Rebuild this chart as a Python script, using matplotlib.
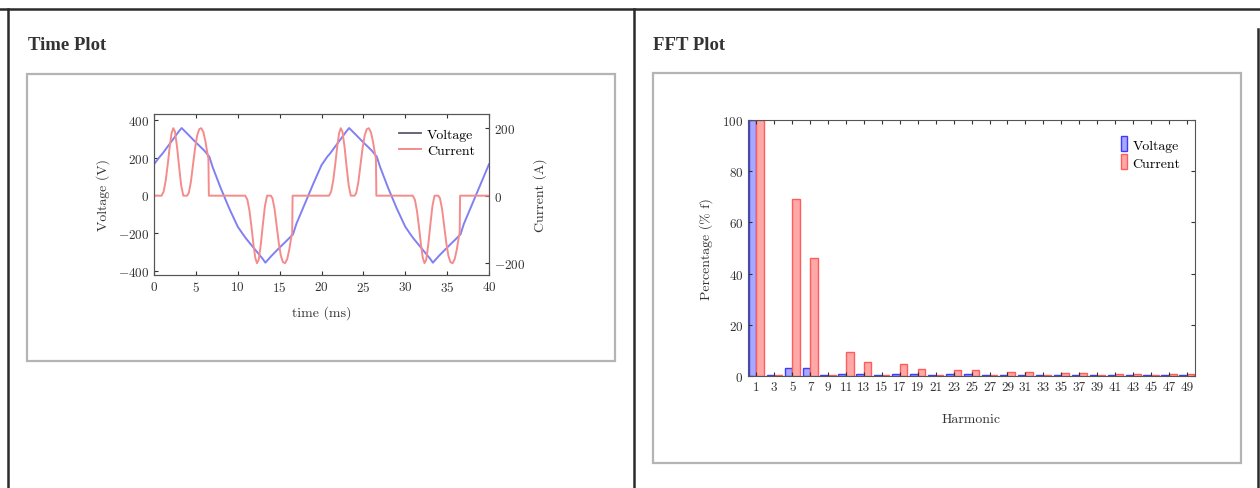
import numpy as np
import matplotlib.pyplot as plt
from matplotlib.lines import Line2D
from matplotlib.patches import Rectangle

plt.rcParams['font.family'] = 'cmr10'
plt.rcParams['mathtext.fontset'] = 'cm'
plt.rcParams['axes.formatter.use_mathtext'] = True

# time plot data
t_volt = [0, 0.7, 1, 2, 3, 3.3, 4, 5, 6, 6.6, 7, 8, 9, 10, 10.7, 11, 12, 13, 13.3,
          14, 15, 16, 16.6, 17, 18, 19, 20, 20.7, 21, 22, 23, 23.3, 24, 25, 26, 26.6,
          27, 28, 29, 30, 30.7, 31, 32, 33, 33.3, 34, 35, 36, 36.6, 37, 38, 39, 40]
volt = [165, 205, 220, 280, 340, 356, 325, 280, 237, 205, 150, 35, -70, -165, -210, -228, -282, -336, -355,
        -320, -275, -232, -205, -150, -45, 60, 160, 205, 220, 280, 340, 356, 325, 280, 237, 205,
        150, 35, -70, -165, -210, -228, -282, -336, -355, -320, -275, -232, -205, -150, -45, 60, 165]

t_curr = [0, 0.9, 1.15, 1.4, 1.65, 1.9, 2.1, 2.3, 2.5, 2.75, 3.0, 3.25, 3.5, 3.95, 4.15, 4.4, 4.65,
          4.9, 5.15, 5.4, 5.65, 5.9, 6.15, 6.4, 6.5, 6.55,
          10.9, 11.15, 11.4, 11.65, 11.9, 12.1, 12.3, 12.5, 12.75, 13.0, 13.25, 13.5, 13.95, 14.15, 14.4, 14.65,
          14.9, 15.15, 15.4, 15.65, 15.9, 16.15, 16.4, 16.5, 16.55,
          20.9, 21.15, 21.4, 21.65, 21.9, 22.1, 22.3, 22.5, 22.75, 23.0, 23.25, 23.5, 23.95, 24.15, 24.4, 24.65,
          24.9, 25.15, 25.4, 25.65, 25.9, 26.15, 26.4, 26.5, 26.55,
          30.9, 31.15, 31.4, 31.65, 31.9, 32.1, 32.3, 32.5, 32.75, 33.0, 33.25, 33.5, 33.95, 34.15, 34.4, 34.65,
          34.9, 35.15, 35.4, 35.65, 35.9, 36.15, 36.4, 36.5, 36.55, 40]
curr = [0, 0, 12, 45, 95, 150, 185, 200, 190, 145, 85, 30, 0, 0, 8, 40, 90,
        140, 178, 197, 200, 188, 160, 122, 110, 0,
        0, -12, -45, -95, -150, -185, -200, -190, -145, -85, -30, 0, 0, -8, -40, -90,
        -140, -178, -197, -200, -188, -160, -122, -110, 0,
        0, 12, 45, 95, 150, 185, 200, 190, 145, 85, 30, 0, 0, 8, 40, 90,
        140, 178, 197, 200, 188, 160, 122, 110, 0,
        0, -12, -45, -95, -150, -185, -200, -190, -145, -85, -30, 0, 0, -8, -40, -90,
        -140, -178, -197, -200, -188, -160, -122, -110, 0, 0]

# FFT data
harmonics = [1, 3, 5, 7, 9, 11, 13, 15, 17, 19, 21, 23, 25, 27, 29, 31, 33, 35, 37, 39, 41, 43, 45, 47, 49]
fft_volt = [100, 0.4, 3.0, 3.0, 0.4, 0.9, 0.8, 0.4, 0.9, 0.6, 0.4, 0.6, 0.6, 0.3, 0.5, 0.5,
            0.3, 0.4, 0.4, 0.3, 0.4, 0.4, 0.3, 0.4, 0.4]
fft_curr = [100, 0.3, 69, 46, 0.3, 9.4, 5.3, 0.3, 4.8, 2.7, 0.3, 2.5, 2.2, 0.3, 1.4, 1.4,
            0.3, 1.1, 1.1, 0.3, 0.9, 0.9, 0.3, 0.7, 0.7]

W, H = 1260, 489
fig = plt.figure(figsize=(W / 100, H / 100), dpi=100)


def fx(x):
    return x / W


def fy(y):
    return 1 - y / H


def seg(x0, y0, x1, y1, lw, c):
    fig.add_artist(Line2D([fx(x0), fx(x1)], [fy(y0), fy(y1)], lw=lw, color=c,
                          transform=fig.transFigure))


def box(x0, y0, x1, y1):
    fig.add_artist(Rectangle((fx(x0), fy(y1)), fx(x1) - fx(x0), fy(y0) - fy(y1),
                             fill=False, ec='#b4b4b4', lw=1.6, transform=fig.transFigure))


# page frame
seg(0, 10, W, 10, 1.8, '#2b2b2b')
seg(8, 10, 8, H, 1.8, '#2b2b2b')
seg(634, 10, 634, H, 1.8, '#2b2b2b')
seg(1258, 30, 1258, H, 1.8, '#2b2b2b')
box(27, 75, 615, 362)
box(653, 74, 1241, 464)

head = dict(family='Liberation Serif', weight='bold', size=13.5, va='center', color='#333333')
fig.text(fx(28), fy(45), 'Time Plot', **head)
fig.text(fx(653), fy(45), 'FFT Plot', **head)

blue_line = '#8080f4'
red_line = '#f58c8c'
spine_c = '#555555'
txt_c = '#333333'

# ---- time plot
ax = fig.add_axes([fx(154), fy(276), fx(489) - fx(154), fy(115) - fy(276)])
ax2 = ax.twinx()
ax.plot(t_volt, volt, color=blue_line, lw=1.4)
ax2.plot(t_curr, curr, color=red_line, lw=1.4)
ax.set_xlim(0, 40)
ax.set_ylim(-420, 430)
ax2.set_ylim(-235, 242)
ax.set_xticks(np.arange(0, 41, 5))
ax.set_yticks([-400, -200, 0, 200, 400])
ax2.set_yticks([-200, 0, 200])
ax.tick_params(direction='in', length=3, top=True, labelsize=9.5, colors=txt_c)
ax2.tick_params(direction='in', length=3, labelsize=9.5, colors=txt_c)
for a in (ax, ax2):
    for s in a.spines.values():
        s.set_color(spine_c)
ax.set_xlabel('time (ms)', fontsize=10, color=txt_c)
ax.set_ylabel('Voltage (V)', fontsize=10, color=txt_c)
ax2.set_ylabel('Current (A)', fontsize=10, color=txt_c)
ax.xaxis.set_label_coords(0.5, -0.23)
ax.xaxis.label.set_va('center')
ax.yaxis.set_label_coords(-0.152, 0.5)
ax.yaxis.label.set_va('center')
ax2.yaxis.set_label_coords(1.152, 0.5)
ax2.yaxis.label.set_va('center')
handles = [Line2D([], [], color='#5a5a6e', lw=1.3), Line2D([], [], color=red_line, lw=1.4)]
ax2.legend(handles, ['Voltage', 'Current'], loc='upper right', bbox_to_anchor=(0.995, 0.99),
           frameon=False, fontsize=10, handlelength=1.6, handletextpad=0.4, labelspacing=0.25)

# ---- FFT plot
bx = fig.add_axes([fx(748), fy(377), fx(1195) - fx(748), fy(121) - fy(377)])
pos = np.arange(len(harmonics))
bw = 0.42
bx.bar(pos - bw / 2, fft_volt, width=bw, color='#a8a8ff', edgecolor='#3c3cff', lw=1.0,
       label='Voltage')
bx.bar(pos + bw / 2, fft_curr, width=bw, color='#ffa8a8', edgecolor='#ff5c5c', lw=1.0,
       label='Current')
bx.set_xlim(-0.46, len(harmonics) - 0.55)
bx.set_ylim(0, 100)
bx.set_xticks(pos)
bx.set_xticklabels([str(h) for h in harmonics])
bx.set_yticks([0, 20, 40, 60, 80, 100])
bx.tick_params(direction='in', length=3, top=True, right=True, labelsize=9.5, colors=txt_c)
for s in bx.spines.values():
    s.set_color(spine_c)
bx.set_xlabel('Harmonic', fontsize=10, color=txt_c)
bx.set_ylabel('Percentage (% f)', fontsize=10, color=txt_c)
bx.xaxis.set_label_coords(0.5, -0.168)
bx.xaxis.label.set_va('center')
bx.yaxis.set_label_coords(-0.094, 0.5)
bx.yaxis.label.set_va('center')
bx.legend(loc='upper right', bbox_to_anchor=(0.995, 0.985), frameon=False, fontsize=10,
          handlelength=0.45, handleheight=1.3, handletextpad=0.4, labelspacing=0.2)

fig.savefig('out.png', dpi=100)
